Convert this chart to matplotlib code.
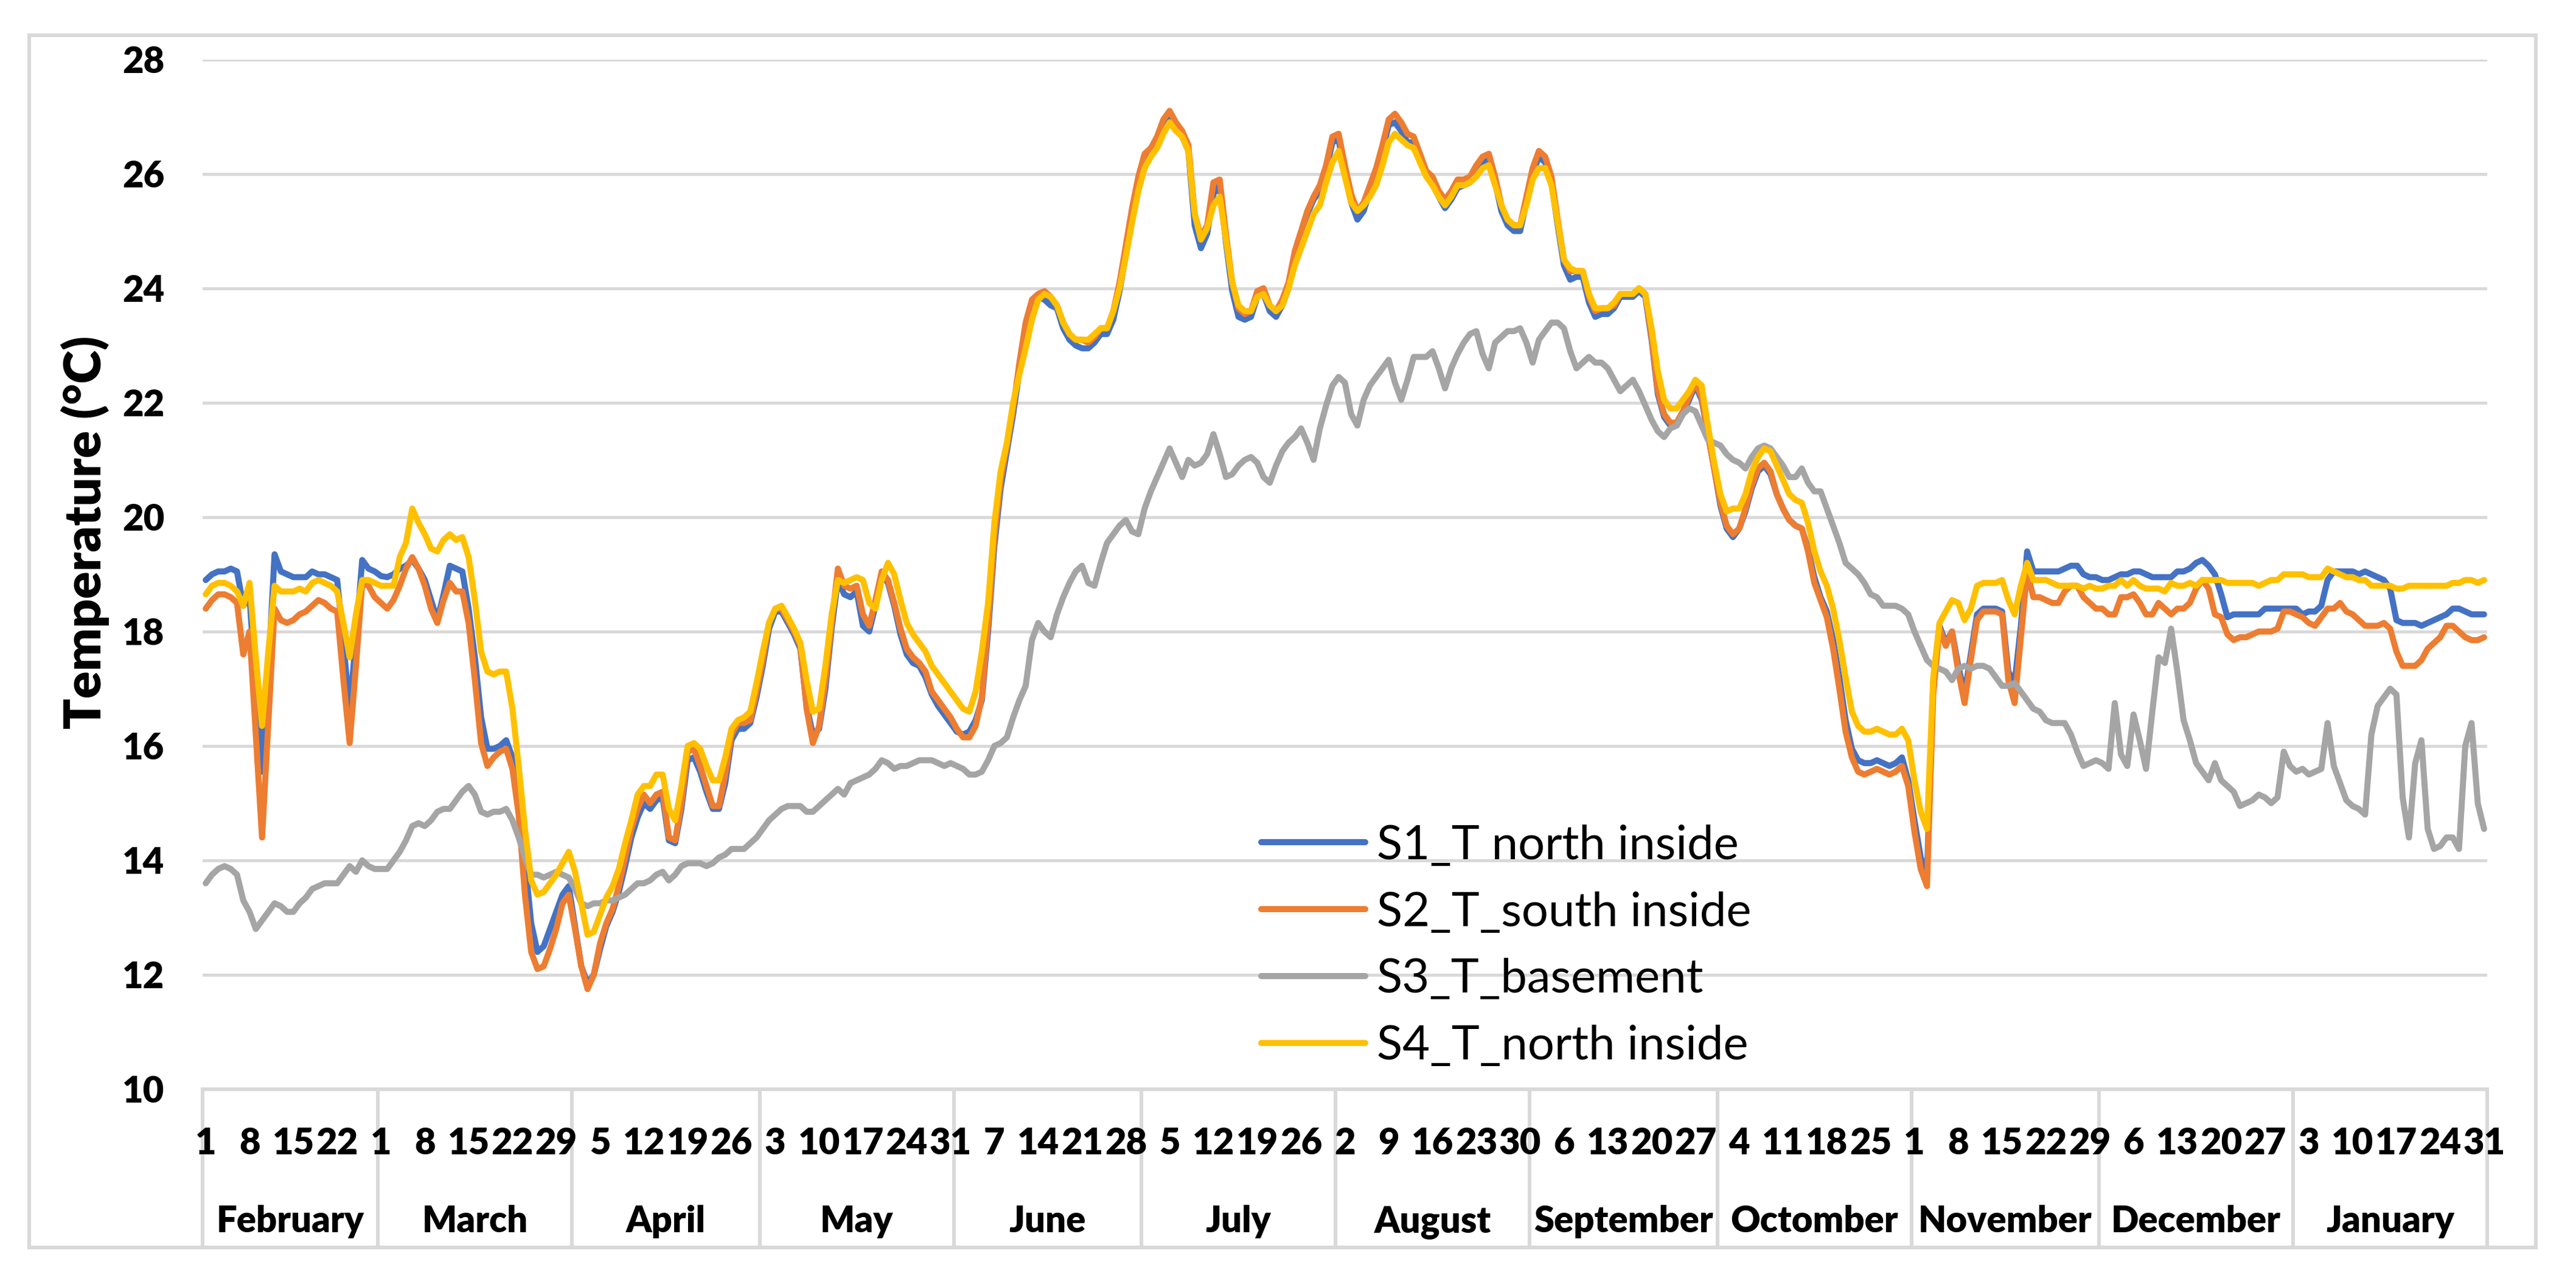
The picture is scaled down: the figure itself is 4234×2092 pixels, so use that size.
import matplotlib
matplotlib.use('Agg')
import matplotlib.pyplot as plt
from matplotlib.transforms import blended_transform_factory
from matplotlib.patches import Rectangle
import numpy as np

plt.rcParams['font.family'] = ['Lato', 'DejaVu Sans']

# ---------------- data ----------------
month_names = ["February", "March", "April", "May", "June", "July", "August",
               "September", "Octomber", "November", "December", "January"]
month_days = [28, 31, 30, 31, 30, 31, 31, 30, 31, 30, 31, 31]
y_ticks = [10, 12, 14, 16, 18, 20, 22, 24, 26, 28]
series_names = ["S1_T north inside", "S2_T_south inside", "S3_T_basement", "S4_T_north inside"]
series_colors = ["#4472C4", "#ED7D31", "#A5A5A5", "#FFC000"]

s1_north = [
    # Feb
    18.9, 19.0, 19.05, 19.05, 19.1, 19.05, 18.45, 18.6, 17.0, 15.55, 17.3, 19.35, 19.05, 19.0, 18.95, 18.95, 18.95, 19.05, 19.0, 19.0, 18.95, 18.9, 17.8, 16.6, 17.9, 19.25, 19.1, 19.05,
    # Mar
    18.97, 18.95, 19.0, 19.1, 19.15, 19.25, 19.1, 18.9, 18.55, 18.2, 18.65, 19.15, 19.1, 19.05, 18.4, 17.55, 16.5, 15.95, 15.95, 16.0, 16.1, 15.8, 15.15, 14.0, 12.9, 12.4, 12.5, 12.8, 13.1, 13.4, 13.55,
    # Apr
    12.85, 12.15, 11.85, 12.0, 12.45, 12.85, 13.1, 13.45, 13.9, 14.4, 14.75, 15.0, 14.9, 15.05, 15.1, 14.35, 14.3, 14.9, 15.75, 15.8, 15.55, 15.2, 14.9, 14.9, 15.35, 16.1, 16.3, 16.3, 16.4, 16.85,
    # May
    17.4, 18.05, 18.35, 18.35, 18.15, 17.95, 17.7, 16.7, 16.2, 16.3, 17.0, 18.05, 18.9, 18.65, 18.6, 18.7, 18.1, 18.0, 18.45, 19.0, 18.85, 18.45, 17.95, 17.6, 17.45, 17.4, 17.2, 16.9, 16.7, 16.55, 16.4,
    # Jun
    16.25, 16.2, 16.25, 16.45, 16.8, 18.0, 19.5, 20.5, 21.15, 21.8, 22.55, 23.3, 23.7, 23.85, 23.8, 23.7, 23.65, 23.3, 23.1, 23.0, 22.95, 22.95, 23.05, 23.2, 23.2, 23.45, 23.95, 24.6, 25.25, 25.85,
    # Jul
    26.25, 26.4, 26.55, 26.85, 26.95, 26.8, 26.65, 26.4, 25.1, 24.7, 24.95, 25.65, 25.8, 24.8, 23.95, 23.5, 23.45, 23.5, 23.85, 23.9, 23.6, 23.5, 23.7, 24.0, 24.55, 24.9, 25.3, 25.55, 25.7, 26.05, 26.55,
    # Aug
    26.6, 26.0, 25.5, 25.2, 25.35, 25.7, 26.0, 26.4, 26.85, 26.9, 26.75, 26.55, 26.55, 26.3, 26.0, 25.85, 25.6, 25.4, 25.55, 25.75, 25.8, 25.85, 26.05, 26.2, 26.25, 25.85, 25.35, 25.1, 25.0, 25.0, 25.5,
    # Sep
    26.0, 26.3, 26.2, 25.85, 25.1, 24.4, 24.15, 24.2, 24.2, 23.75, 23.5, 23.55, 23.55, 23.65, 23.85, 23.85, 23.85, 23.95, 23.85, 23.1, 22.15, 21.75, 21.6, 21.6, 21.8, 22.05, 22.3, 22.05, 21.45, 20.85,
    # Oct
    20.2, 19.8, 19.65, 19.8, 20.1, 20.5, 20.8, 20.9, 20.75, 20.4, 20.15, 19.95, 19.85, 19.8, 19.45, 18.95, 18.6, 18.35, 17.85, 17.2, 16.45, 15.95, 15.75, 15.7, 15.7, 15.75, 15.7, 15.65, 15.7, 15.8, 15.4,
    # Nov
    14.7, 14.05, 13.75, 17.1, 18.1, 17.8, 18.0, 17.4, 16.9, 17.6, 18.3, 18.4, 18.4, 18.4, 18.35, 17.3, 17.1, 18.1, 19.4, 19.05, 19.05, 19.05, 19.05, 19.05, 19.1, 19.15, 19.15, 19.0, 18.95, 18.95,
    # Dec
    18.9, 18.9, 18.95, 19.0, 19.0, 19.05, 19.05, 19.0, 18.95, 18.95, 18.95, 18.95, 19.05, 19.05, 19.1, 19.2, 19.25, 19.15, 19.0, 18.65, 18.25, 18.3, 18.3, 18.3, 18.3, 18.3, 18.4, 18.4, 18.4, 18.4, 18.4,
    # Jan
    18.4, 18.3, 18.35, 18.35, 18.45, 18.9, 19.05, 19.05, 19.05, 19.05, 19.0, 19.05, 19.0, 18.95, 18.9, 18.75, 18.2, 18.15, 18.15, 18.15, 18.1, 18.15, 18.2, 18.25, 18.3, 18.4, 18.4, 18.35, 18.3, 18.3, 18.3,
]

s2_south = [
    # Feb
    18.4, 18.55, 18.65, 18.65, 18.6, 18.5, 17.6, 18.0, 16.2, 14.4, 16.4, 18.4, 18.2, 18.15, 18.2, 18.3, 18.35, 18.45, 18.55, 18.5, 18.4, 18.35, 17.15, 16.05, 17.4, 18.85, 18.8, 18.6,
    # Mar
    18.5, 18.4, 18.55, 18.8, 19.1, 19.3, 19.1, 18.8, 18.4, 18.15, 18.55, 18.85, 18.7, 18.7, 18.15, 17.15, 16.05, 15.65, 15.8, 15.9, 15.95, 15.6, 14.8, 13.4, 12.4, 12.1, 12.15, 12.45, 12.8, 13.25, 13.4,
    # Apr
    12.8, 12.15, 11.75, 12.0, 12.55, 12.9, 13.15, 13.55, 14.05, 14.55, 14.9, 15.15, 15.0, 15.15, 15.2, 14.4, 14.35, 15.0, 15.9, 15.95, 15.65, 15.3, 14.95, 14.95, 15.5, 16.2, 16.4, 16.4, 16.45, 16.95,
    # May
    17.5, 18.15, 18.4, 18.4, 18.2, 18.0, 17.75, 16.65, 16.05, 16.35, 17.15, 18.15, 19.1, 18.8, 18.75, 18.8, 18.3, 18.1, 18.55, 19.05, 18.9, 18.5, 18.05, 17.7, 17.55, 17.45, 17.3, 16.95, 16.8, 16.65, 16.5,
    # Jun
    16.3, 16.15, 16.15, 16.35, 16.85, 18.15, 19.65, 20.65, 21.25, 21.9, 22.7, 23.4, 23.8, 23.9, 23.95, 23.85, 23.7, 23.4, 23.2, 23.1, 23.1, 23.05, 23.15, 23.3, 23.3, 23.6, 24.1, 24.75, 25.4, 25.95,
    # Jul
    26.35, 26.45, 26.65, 26.95, 27.1, 26.9, 26.75, 26.5, 25.3, 24.9, 25.1, 25.85, 25.9, 24.95, 24.1, 23.65, 23.55, 23.6, 23.95, 24.0, 23.7, 23.6, 23.8, 24.1, 24.65, 25.0, 25.35, 25.6, 25.8, 26.15, 26.65,
    # Aug
    26.7, 26.15, 25.65, 25.35, 25.5, 25.8, 26.1, 26.5, 26.95, 27.05, 26.9, 26.7, 26.65, 26.35, 26.05, 25.95, 25.7, 25.55, 25.7, 25.9, 25.9, 25.95, 26.15, 26.3, 26.35, 25.95, 25.45, 25.2, 25.1, 25.1, 25.6,
    # Sep
    26.1, 26.4, 26.3, 25.95, 25.2, 24.5, 24.3, 24.3, 24.3, 23.85, 23.6, 23.65, 23.65, 23.7, 23.9, 23.9, 23.9, 24.0, 23.9, 23.15, 22.2, 21.8, 21.65, 21.65, 21.85, 22.1, 22.35, 22.1, 21.45, 20.85,
    # Oct
    20.25, 19.85, 19.7, 19.8, 20.15, 20.55, 20.85, 20.95, 20.8, 20.4, 20.15, 19.95, 19.85, 19.8, 19.4, 18.85, 18.55, 18.25, 17.7, 17.0, 16.25, 15.8, 15.55, 15.5, 15.55, 15.6, 15.55, 15.5, 15.55, 15.65, 15.3,
    # Nov
    14.5, 13.85, 13.55, 16.9, 18.05, 17.75, 18.0, 17.3, 16.75, 17.5, 18.2, 18.35, 18.35, 18.35, 18.3, 17.15, 16.75, 17.9, 19.05, 18.6, 18.6, 18.55, 18.5, 18.5, 18.7, 18.8, 18.8, 18.6, 18.5, 18.4,
    # Dec
    18.4, 18.3, 18.3, 18.6, 18.6, 18.65, 18.5, 18.3, 18.3, 18.5, 18.4, 18.3, 18.4, 18.4, 18.5, 18.75, 18.9, 18.75, 18.3, 18.25, 17.95, 17.85, 17.9, 17.9, 17.95, 18.0, 18.0, 18.0, 18.05, 18.35, 18.35,
    # Jan
    18.3, 18.25, 18.15, 18.1, 18.25, 18.4, 18.4, 18.5, 18.35, 18.3, 18.2, 18.1, 18.1, 18.1, 18.15, 18.05, 17.65, 17.4, 17.4, 17.4, 17.5, 17.7, 17.8, 17.9, 18.1, 18.1, 18.0, 17.9, 17.85, 17.85, 17.9,
]

s3_basement = [
    # Feb
    13.6, 13.75, 13.85, 13.9, 13.85, 13.75, 13.3, 13.1, 12.8, 12.95, 13.1, 13.25, 13.2, 13.1, 13.1, 13.25, 13.35, 13.5, 13.55, 13.6, 13.6, 13.6, 13.75, 13.9, 13.8, 14.0, 13.9, 13.85,
    # Mar
    13.85, 13.85, 14.0, 14.15, 14.35, 14.6, 14.65, 14.6, 14.7, 14.85, 14.9, 14.9, 15.05, 15.2, 15.3, 15.15, 14.85, 14.8, 14.85, 14.85, 14.9, 14.7, 14.4, 14.05, 13.75, 13.75, 13.7, 13.75, 13.8, 13.75, 13.7,
    # Apr
    13.5, 13.25, 13.2, 13.25, 13.25, 13.3, 13.3, 13.35, 13.4, 13.5, 13.6, 13.6, 13.65, 13.75, 13.8, 13.65, 13.75, 13.9, 13.95, 13.95, 13.95, 13.9, 13.95, 14.05, 14.1, 14.2, 14.2, 14.2, 14.3, 14.4,
    # May
    14.55, 14.7, 14.8, 14.9, 14.95, 14.95, 14.95, 14.85, 14.85, 14.95, 15.05, 15.15, 15.25, 15.15, 15.35, 15.4, 15.45, 15.5, 15.6, 15.75, 15.7, 15.6, 15.65, 15.65, 15.7, 15.75, 15.75, 15.75, 15.7, 15.65, 15.7,
    # Jun
    15.65, 15.6, 15.5, 15.5, 15.55, 15.75, 16.0, 16.05, 16.15, 16.5, 16.8, 17.05, 17.85, 18.15, 18.0, 17.9, 18.3, 18.6, 18.85, 19.05, 19.15, 18.85, 18.8, 19.2, 19.55, 19.7, 19.85, 19.95, 19.75, 19.7,
    # Jul
    20.15, 20.45, 20.7, 20.95, 21.2, 20.95, 20.7, 21.0, 20.9, 20.95, 21.1, 21.45, 21.1, 20.7, 20.75, 20.9, 21.0, 21.05, 20.95, 20.7, 20.6, 20.9, 21.15, 21.3, 21.4, 21.55, 21.3, 21.0, 21.55, 21.95, 22.3,
    # Aug
    22.45, 22.35, 21.8, 21.6, 22.05, 22.3, 22.45, 22.6, 22.75, 22.35, 22.05, 22.4, 22.8, 22.8, 22.8, 22.9, 22.6, 22.25, 22.6, 22.85, 23.05, 23.2, 23.25, 22.85, 22.6, 23.05, 23.15, 23.25, 23.25, 23.3, 23.05,
    # Sep
    22.7, 23.1, 23.25, 23.4, 23.4, 23.3, 22.9, 22.6, 22.7, 22.8, 22.7, 22.7, 22.6, 22.4, 22.2, 22.3, 22.4, 22.2, 21.95, 21.7, 21.5, 21.4, 21.55, 21.6, 21.8, 21.9, 21.85, 21.6, 21.35, 21.3,
    # Oct
    21.25, 21.1, 21.0, 20.95, 20.85, 21.05, 21.2, 21.25, 21.2, 21.05, 20.9, 20.7, 20.7, 20.85, 20.6, 20.45, 20.45, 20.15, 19.85, 19.55, 19.2, 19.1, 19.0, 18.85, 18.65, 18.6, 18.45, 18.45, 18.45, 18.4, 18.3,
    # Nov
    18.0, 17.75, 17.5, 17.4, 17.35, 17.3, 17.15, 17.35, 17.4, 17.35, 17.4, 17.4, 17.35, 17.2, 17.05, 17.05, 17.1, 16.95, 16.8, 16.65, 16.6, 16.45, 16.4, 16.4, 16.4, 16.2, 15.9, 15.65, 15.7, 15.75,
    # Dec
    15.7, 15.6, 16.75, 15.85, 15.65, 16.55, 16.1, 15.6, 16.6, 17.55, 17.45, 18.05, 17.3, 16.45, 16.1, 15.7, 15.55, 15.4, 15.7, 15.4, 15.3, 15.2, 14.95, 15.0, 15.05, 15.15, 15.1, 15.0, 15.1, 15.9, 15.65,
    # Jan
    15.55, 15.6, 15.5, 15.55, 15.6, 16.4, 15.65, 15.35, 15.05, 14.95, 14.9, 14.8, 16.2, 16.7, 16.85, 17.0, 16.9, 15.1, 14.4, 15.7, 16.1, 14.55, 14.2, 14.25, 14.4, 14.4, 14.2, 16.0, 16.4, 15.0, 14.55,
]

s4_north = [
    # Feb
    18.65, 18.8, 18.85, 18.85, 18.8, 18.7, 18.45, 18.85, 17.55, 16.35, 17.65, 18.8, 18.7, 18.7, 18.7, 18.75, 18.7, 18.85, 18.9, 18.85, 18.8, 18.7, 18.15, 17.55, 18.3, 18.9, 18.9, 18.85,
    # Mar
    18.8, 18.8, 18.8, 19.3, 19.55, 20.15, 19.9, 19.7, 19.45, 19.4, 19.6, 19.7, 19.6, 19.65, 19.3, 18.55, 17.65, 17.3, 17.25, 17.3, 17.3, 16.65, 15.65, 14.55, 13.65, 13.4, 13.45, 13.6, 13.75, 13.95, 14.15,
    # Apr
    13.8, 13.25, 12.7, 12.75, 13.05, 13.35, 13.55, 13.85, 14.3, 14.7, 15.15, 15.3, 15.3, 15.5, 15.5, 14.9, 14.7, 15.3, 16.0, 16.05, 15.95, 15.65, 15.4, 15.4, 15.8, 16.3, 16.45, 16.5, 16.6, 17.1,
    # May
    17.65, 18.15, 18.4, 18.45, 18.25, 18.05, 17.8, 17.15, 16.6, 16.65, 17.4, 18.3, 18.9, 18.85, 18.9, 18.95, 18.9, 18.5, 18.4, 18.9, 19.2, 19.0, 18.55, 18.15, 17.95, 17.8, 17.65, 17.4, 17.25, 17.1, 16.95,
    # Jun
    16.8, 16.65, 16.6, 16.95, 17.65, 18.5, 19.9, 20.8, 21.3, 22.0, 22.5, 22.95, 23.45, 23.8, 23.9, 23.85, 23.7, 23.4, 23.2, 23.1, 23.1, 23.1, 23.2, 23.3, 23.3, 23.6, 24.0, 24.55, 25.15, 25.7,
    # Jul
    26.1, 26.3, 26.45, 26.7, 26.9, 26.75, 26.65, 26.4, 25.3, 24.85, 25.05, 25.45, 25.6, 24.85, 24.1, 23.7, 23.6, 23.6, 23.85, 23.9, 23.7, 23.6, 23.7, 24.0, 24.4, 24.7, 25.0, 25.3, 25.45, 25.85, 26.2,
    # Aug
    26.4, 25.95, 25.5, 25.35, 25.45, 25.6, 25.8, 26.15, 26.55, 26.7, 26.6, 26.5, 26.45, 26.2, 25.95, 25.8, 25.6, 25.45, 25.6, 25.8, 25.8, 25.85, 25.95, 26.1, 26.15, 25.8, 25.45, 25.2, 25.1, 25.1, 25.45,
    # Sep
    25.9, 26.1, 26.1, 25.8, 25.15, 24.5, 24.35, 24.3, 24.3, 23.9, 23.65, 23.65, 23.65, 23.75, 23.9, 23.9, 23.9, 24.0, 23.9, 23.3, 22.55, 22.05, 21.9, 21.9, 22.05, 22.2, 22.4, 22.3, 21.6, 20.95,
    # Oct
    20.4, 20.1, 20.15, 20.15, 20.4, 20.8, 21.05, 21.2, 21.15, 20.9, 20.65, 20.4, 20.3, 20.25, 19.9, 19.4, 19.05, 18.8, 18.4, 17.85, 17.2, 16.6, 16.35, 16.25, 16.25, 16.3, 16.25, 16.2, 16.2, 16.3, 16.1,
    # Nov
    15.4, 14.85, 14.55, 17.2, 18.15, 18.35, 18.55, 18.5, 18.2, 18.4, 18.8, 18.85, 18.85, 18.85, 18.9, 18.55, 18.3, 18.8, 19.2, 18.9, 18.9, 18.9, 18.85, 18.8, 18.8, 18.8, 18.8, 18.75, 18.8, 18.75,
    # Dec
    18.75, 18.8, 18.8, 18.9, 18.8, 18.9, 18.8, 18.75, 18.75, 18.75, 18.7, 18.85, 18.8, 18.8, 18.85, 18.8, 18.9, 18.9, 18.9, 18.9, 18.85, 18.85, 18.85, 18.85, 18.85, 18.8, 18.85, 18.9, 18.9, 19.0, 19.0,
    # Jan
    19.0, 19.0, 18.95, 18.95, 18.95, 19.1, 19.05, 19.0, 18.95, 18.95, 18.9, 18.9, 18.8, 18.8, 18.8, 18.8, 18.75, 18.75, 18.8, 18.8, 18.8, 18.8, 18.8, 18.8, 18.8, 18.85, 18.85, 18.9, 18.9, 18.85, 18.9,
]

series_values = [s1_north, s2_south, s3_basement, s4_north]

# ---------------- layout ----------------
W, H = 4234, 2092
DPI = 100
fig = plt.figure(figsize=(W / DPI, H / DPI), dpi=DPI)
fig.patch.set_facecolor('white')

def fx(px):
    return px / W

def fy(py):
    return 1 - py / H

GRID = '#D9D9D9'
LABEL_W = 'heavy'
ax_l, ax_r, ax_t, ax_b = 333, 4088, 97.6, 1790
ax = fig.add_axes([fx(ax_l), fy(ax_b), fx(ax_r) - fx(ax_l), fy(ax_t) - fy(ax_b)])

n_days = sum(month_days)
for name, vals, col in zip(series_names, series_values, series_colors):
    x = np.arange(len(vals))
    ax.plot(x, vals, color=col, lw=7.2, label=name,
            solid_joinstyle='round', solid_capstyle='round', zorder=3)

ax.set_xlim(-0.5, n_days - 0.5)
ax.set_ylim(y_ticks[0], y_ticks[-1])
ax.set_yticks(y_ticks)
ax.set_yticklabels([str(t) for t in y_ticks], fontsize=43, fontweight=LABEL_W)
ax.tick_params(axis='y', length=0, pad=45)
ax.set_xticks([])
ax.yaxis.grid(True, color=GRID, linewidth=3.6, zorder=0)
ax.set_axisbelow(True)
for s in ['top', 'left', 'right']:
    ax.spines[s].set_visible(False)
ax.spines['bottom'].set_color(GRID)
ax.spines['bottom'].set_linewidth(4.3)

# category axis: day labels, month labels, separators
blend = blended_transform_factory(ax.transData, fig.transFigure)
day_of_month = []
for nd in month_days:
    day_of_month.extend(range(1, nd + 1))
for i in range(0, n_days, 7):
    ax.text(i, fy(1897), str(day_of_month[i]), transform=blend, ha='center',
            va='baseline', fontsize=43, fontweight=LABEL_W, clip_on=False)

bounds = np.concatenate([[0], np.cumsum(month_days)]) - 0.5
for b in bounds:
    ax.plot([b, b], [fy(1790), fy(2050)], transform=blend, color=GRID,
            lw=4.3, clip_on=False, solid_capstyle='butt')
for k, name in enumerate(month_names):
    c = (bounds[k] + bounds[k + 1]) / 2
    ax.text(c, fy(2025), name, transform=blend, ha='center', va='baseline',
            fontsize=43, fontweight=LABEL_W, clip_on=False)

# axis title
fig.text(fx(140), fy(875), 'Temperature (°C)', rotation=90,
         ha='center', va='center', fontsize=60, fontweight=LABEL_W)

# legend
leg = ax.legend(loc='center left', bbox_to_anchor=(fx(2073), fy(1555)),
                bbox_transform=fig.transFigure, frameon=False, fontsize=56,
                handlelength=2.2, handletextpad=0.24, labelspacing=0.5,
                borderpad=0, borderaxespad=0)
for line in leg.get_lines():
    line.set_linewidth(7.2)

# chart border
fig.patches.append(Rectangle((fx(48), fy(2050)), fx(4168) - fx(48), fy(58) - fy(2050),
                             transform=fig.transFigure, fill=False, ec=GRID, lw=4.3))

fig.savefig('out.png', dpi=DPI, facecolor='white')
